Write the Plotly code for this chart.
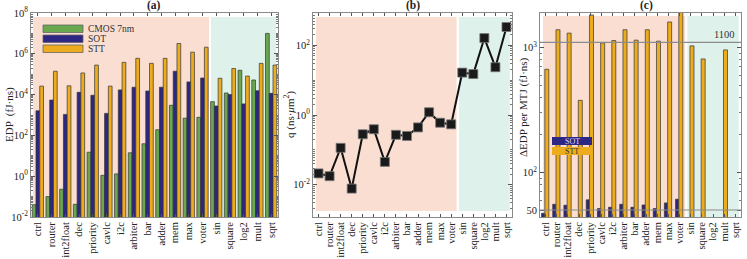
import plotly.graph_objects as go

cats = ["ctrl", "router", "int2float", "dec", "priority", "cavlc", "i2c", "arbiter", "bar",
        "adder", "mem", "max", "voter", "sin", "square", "log2", "mult", "sqrt"]

edp_cmos = [0.04, 0.1, 0.23, 0.042, 15, 1.1, 1.3, 14, 39, 190, 3000, 700, 770,
            4500, 12000, 156000, 52000, 1.0e7]
edp_sot = [1600, 5400, 1070, 13000, 9300, 1200, 17000, 23000, 15000, 23000, 140000, 42000, 65000,
           2750, 10000, 3500, 15500, 11500]
edp_stt = [26000, 140000, 27000, 115000, 280000, 26000, 380000, 600000, 340000, 600000, 3.2e6,
           1.2e6, 2.1e6, 63000, 190000, 81000, 340000, 280000]

q_vals = [0.021, 0.0175, 0.114, 0.0077, 0.28, 0.39, 0.045, 0.27, 0.25, 0.44, 1.2, 0.6, 0.54,
          16.5, 15, 162, 23.6, 337]

dedp_sot = [47.1, 55.6, 54.6, None, 60.3, 51.3, 52.6, 55.6, 52.6, 54.9, 51.3, 57, 61,
            None, None, None, None, None]
dedp_stt = [670, 1390, 1306, 378, 1825, 1091, 1139, 1390, 1147, 1390, 1126, 1604, 2100,
            1032, 811, None, 958, None]

ref_lines = [1100, 50]

a_ticks = [1e-2, 1, 1e2, 1e4, 1e6, 1e8]
a_ticktext = ["10<sup>-2</sup>", "10<sup>0</sup>", "10<sup>2</sup>", "10<sup>4</sup>", "10<sup>6</sup>", "10<sup>8</sup>"]
b_ticks = [1e-2, 1, 1e2]
b_ticktext = ["10<sup>-2</sup>", "10<sup>0</sup>", "10<sup>2</sup>"]
c_ticks = [50, 100, 1000]
c_ticktext = ["50", "10<sup>2</sup>", "10<sup>3</sup>"]

W, H = 747, 259
GREEN = "#6aa84f"
PURPLE = "#2d2783"
YELLOW = "#ecac1e"
PEACH = "#f9ded1"
MINT = "#dff1eb"
EDGE = "#333333"
FONT = "Liberation Serif"

def px(x):
    return x / W

def py(y):
    return 1 - y / H

fig = go.Figure()

# panel (a)
for name, vals, col in [("CMOS 7nm", edp_cmos, GREEN), ("SOT", edp_sot, PURPLE), ("STT", edp_stt, YELLOW)]:
    fig.add_trace(go.Bar(x=cats, y=vals, name=name, marker=dict(color=col, line=dict(color=EDGE, width=0.7)),
                         xaxis="x", yaxis="y", showlegend=False))

# panel (b)
fig.add_trace(go.Scatter(x=cats, y=q_vals, mode="lines+markers", xaxis="x2", yaxis="y2",
                         line=dict(color="#111111", width=2),
                         marker=dict(symbol="square", size=9, color="#1a1a1a", line=dict(color="#777", width=0.8)),
                         showlegend=False))

# panel (c)
for name, vals, col, off, wd in [("SOT", dedp_sot, PURPLE, -0.36, 0.26), ("STT", dedp_stt, YELLOW, -0.07, 0.36)]:
    fig.add_trace(go.Bar(x=cats, y=vals, name=name, marker=dict(color=col, line=dict(color=EDGE, width=0.7)),
                         offset=off, width=wd, xaxis="x3", yaxis="y3", showlegend=False))

ydom = [1 - 217 / H, 1 - 13 / H]
xdoms = [[px(31), px(278)], [px(313), px(512)], [px(540), px(741)]]

common_x = dict(type="category", range=[-0.5, 17.5], tickangle=-90, showline=True, mirror="ticks",
                linecolor="#8a8a8a", linewidth=1, ticks="inside", ticklen=3, tickcolor="#555",
                tickmode="array", tickvals=cats, automargin=False,
                tickfont=dict(family=FONT, size=10.5, color="#222"), showgrid=False, zeroline=False)
common_y = dict(type="log", showline=True, mirror="ticks", linecolor="#8a8a8a", linewidth=1,
                ticks="inside", ticklen=4, tickcolor="#555", showgrid=False, zeroline=False,
                automargin=False, tickmode="array",
                tickfont=dict(family=FONT, size=10.5, color="#222"))
minor = dict(ticks="inside", ticklen=2, tickcolor="#777", dtick="D1")

fig.update_layout(
    width=W, height=H, margin=dict(l=0, r=0, t=0, b=0),
    paper_bgcolor="white", plot_bgcolor="white",
    barmode="group", bargap=0.18, bargroupgap=0.0,
    xaxis=dict(common_x, domain=xdoms[0], anchor="y"),
    yaxis=dict(common_y, domain=ydom, anchor="x", range=[-2, 8], tickvals=a_ticks, ticktext=a_ticktext,
               minor=minor),
    xaxis2=dict(common_x, domain=xdoms[1], anchor="y2"),
    yaxis2=dict(common_y, domain=ydom, anchor="x2", range=[-2.93, 2.93], tickvals=b_ticks,
                ticktext=b_ticktext, minor=minor),
    xaxis3=dict(common_x, domain=xdoms[2], anchor="y3"),
    yaxis3=dict(common_y, domain=ydom, anchor="x3", range=[1.643, 3.277], tickvals=c_ticks,
                ticktext=c_ticktext, minor=minor),
)

shapes = []
regions = [("x", "y", -0.35, 12.47, 12.62, 17.36, 0.0, 0.98),
           ("x2", "y2", -0.23, 12.49, 12.7, 17.3, 0.03, 0.98),
           ("x3", "y3", -0.23, 12.5, 12.7, 17.3, 0.0, 0.985)]
for xr, yr, a0, a1, b0, b1, y0, y1 in regions:
    shapes.append(dict(type="rect", xref=xr, yref=yr + " domain", x0=a0, x1=a1, y0=y0, y1=y1,
                       fillcolor=PEACH, line=dict(width=0), layer="below"))
    shapes.append(dict(type="rect", xref=xr, yref=yr + " domain", x0=b0, x1=b1, y0=y0, y1=y1,
                       fillcolor=MINT, line=dict(width=0), layer="below"))
for v in ref_lines:
    shapes.append(dict(type="line", xref="x3 domain", yref="y3", x0=0, x1=1, y0=v, y1=v,
                       line=dict(color="#8c8c8c", width=1.2)))

annotations = []
# legend panel (a)
for i, (lab, col) in enumerate([("CMOS 7nm", GREEN), ("SOT", PURPLE), ("STT", YELLOW)]):
    top = 25 + i * 10
    shapes.append(dict(type="rect", xref="paper", yref="paper", x0=px(43), x1=px(83), y0=py(top + 7.5), y1=py(top),
                       fillcolor=col, line=dict(color="#666", width=0.8)))
    annotations.append(dict(text=lab, xref="paper", yref="paper", x=px(86), y=py(top + 3.8), xanchor="left",
                            yanchor="middle", showarrow=False, font=dict(family=FONT, size=9.5, color="#333")))
# legend panel (c)
for i, (lab, col, tc) in enumerate([("SOT", PURPLE, "#d8d8f0"), ("STT", YELLOW, "#333")]):
    top = 137 + i * 10
    shapes.append(dict(type="rect", xref="paper", yref="paper", x0=px(552), x1=px(592), y0=py(top + 8), y1=py(top),
                       fillcolor=col, line=dict(width=0)))
    annotations.append(dict(text=lab, xref="paper", yref="paper", x=px(572), y=py(top + 4), xanchor="center",
                            yanchor="middle", showarrow=False, font=dict(family=FONT, size=8, color=tc)))

# 1100 label
annotations.append(dict(text="1100", xref="paper", yref="paper", x=px(737), y=py(35), xanchor="right",
                        yanchor="middle", showarrow=False, font=dict(family=FONT, size=10.5, color="#333")))

# titles
for t, x in [("(a)", 154), ("(b)", 413), ("(c)", 646)]:
    annotations.append(dict(text="<b>" + t + "</b>", xref="paper", yref="paper", x=px(x), y=py(6),
                            xanchor="center", yanchor="middle", showarrow=False,
                            font=dict(family=FONT, size=11.5, color="#222")))

# y titles
for t, x, y in [("EDP  (fJ·ns)", 9, 115), ("q (ns·<i>μ</i>m<sup>2</sup>)", 289, 115),
                ("ΔEDP per MTJ (fJ·ns)", 523, 107)]:
    annotations.append(dict(text=t, xref="paper", yref="paper", x=px(x), y=py(y), xanchor="center",
                            yanchor="middle", textangle=-90, showarrow=False,
                            font=dict(family=FONT, size=11, color="#222")))

fig.update_layout(shapes=shapes, annotations=annotations)
fig.write_html("out.html", config={"displayModeBar": False},
               post_script="document.body.style.margin='0';document.body.style.overflow='hidden';")
